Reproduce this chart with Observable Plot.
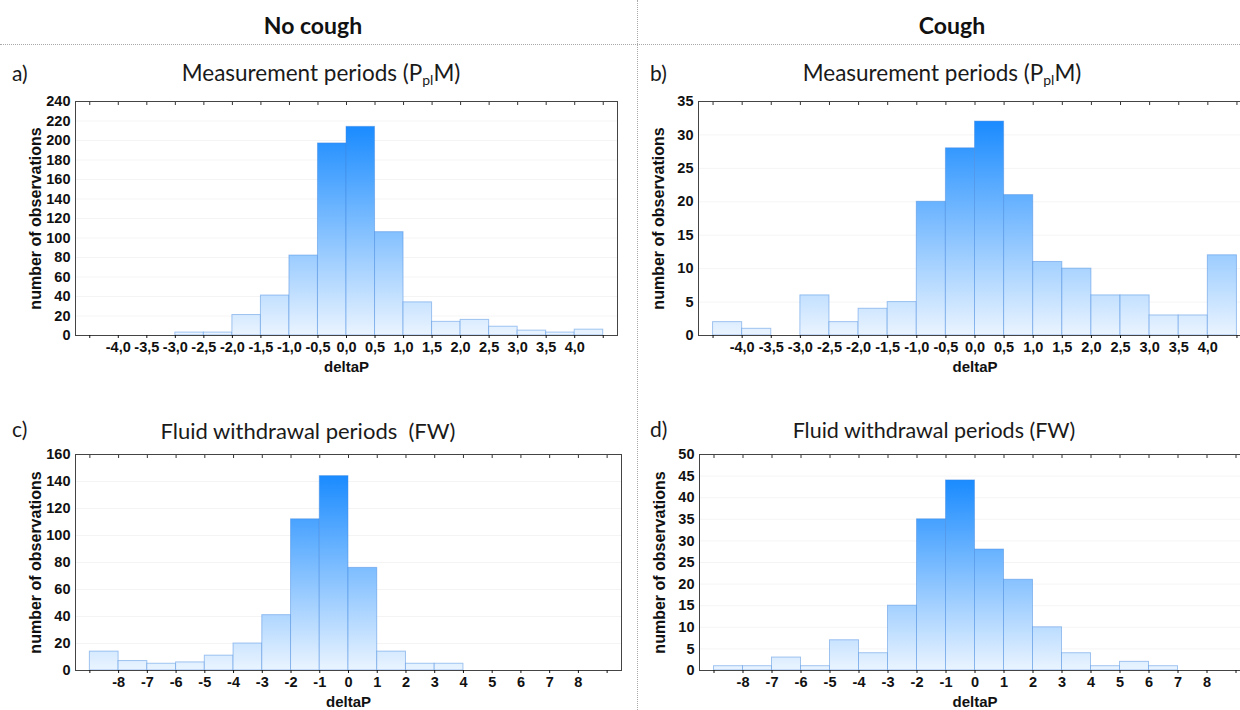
<!DOCTYPE html>
<html><head><meta charset="utf-8">
<script src="https://cdn.jsdelivr.net/npm/d3@7"></script>
<script src="https://cdn.jsdelivr.net/npm/@observablehq/plot@0.6"></script>
<style>
body{margin:0;background:#fff}
#root{position:relative;width:1240px;height:710px;overflow:hidden;background:#fff}
.hdr{position:absolute;font-family:Lato,"Open Sans",sans-serif;font-weight:bold;font-size:23px;color:#111;transform:translate(-50%,-50%);white-space:nowrap}
.ttl{position:absolute;font-family:Lato,"Open Sans",sans-serif;font-size:22.5px;color:#1a1a1a;transform:translate(-50%,-50%);white-space:pre}
.ttl sub{font-size:0.62em;vertical-align:-0.35em;line-height:0}
.lab{position:absolute;font-family:Lato,"Open Sans",sans-serif;font-size:21px;color:#1a1a1a;transform:translate(0,-50%)}
.chart{position:absolute}
.chart svg{max-width:none !important}
.hline{position:absolute;left:0;width:1240px;top:44px;height:0;border-top:1.5px dotted #aaa;z-index:5}
.vline{position:absolute;top:0;height:710px;left:637px;width:0;border-left:1.5px dotted #aaa;z-index:5}
svg g[aria-label="x-axis label"] text{font-size:15px;font-family:"Liberation Sans",Arial,sans-serif}
svg g[aria-label="y-axis label"] text{font-size:16px;font-family:"Liberation Sans",Arial,sans-serif}
</style></head>
<body>
<div id="root">
  <div class="hdr" style="left:313px;top:25px">No cough</div>
  <div class="hdr" style="left:952px;top:25px">Cough</div>
  <div class="hline"></div>
  <div class="vline"></div>
  <div class="lab" style="left:12px;top:72px">a)</div>
  <div class="lab" style="left:650px;top:72px">b)</div>
  <div class="lab" style="left:12px;top:428px">c)</div>
  <div class="lab" style="left:650px;top:428px">d)</div>
  <div class="ttl" style="left:321px;top:72px">Measurement periods (P<sub>pl</sub>M)</div>
  <div class="ttl" style="left:942px;top:72px">Measurement periods (P<sub>pl</sub>M)</div>
  <div class="ttl" style="left:308px;top:430px;font-size:22px">Fluid withdrawal periods  (FW)</div>
  <div class="ttl" style="left:934px;top:430px;font-size:21.5px">Fluid withdrawal periods (FW)</div>
</div>
<script>
// ---- data ----
const edgesPM = [-4.5,-4.0,-3.5,-3.0,-2.5,-2.0,-1.5,-1.0,-0.5,0.0,0.5,1.0,1.5,2.0,2.5,3.0,3.5,4.0,4.5];
const countsA = [0,0,0,3,3,21,41,82,197,214,106,34,14,16,9,5,3,6];
const countsB = [2,1,0,6,2,4,5,20,28,32,21,11,10,6,6,3,3,12];
const edgesFW = [-9,-8,-7,-6,-5,-4,-3,-2,-1,0,1,2,3,4,5,6,7,8,9];
const countsC = [14,7,5,6,11,20,41,112,144,76,14,5,5,0,0,0,0,0];
const countsD = [1,1,3,1,7,4,15,35,44,28,21,10,4,1,2,1,0,0];
const yTicksA = [0,20,40,60,80,100,120,140,160,180,200,220,240];
const yTicksB = [0,5,10,15,20,25,30,35];
const yTicksC = [0,20,40,60,80,100,120,140,160];
const yTicksD = [0,5,10,15,20,25,30,35,40,45,50];
const xLabelsPM = [-4.0,-3.5,-3.0,-2.5,-2.0,-1.5,-1.0,-0.5,0.0,0.5,1.0,1.5,2.0,2.5,3.0,3.5,4.0];
const xLabelsFW = [-8,-7,-6,-5,-4,-3,-2,-1,0,1,2,3,4,5,6,7,8];
const xTitle = "deltaP";
const yTitle = "number of observations";

// ---- layout ----
const panels = [
  {id:"gA", edges:edgesPM, counts:countsA, yTicks:yTicksA, labels:xLabelsPM, dec:1, dom:[-4.75,4.75], left:75, top:101, w:542, h:234},
  {id:"gB", edges:edgesPM, counts:countsB, yTicks:yTicksB, labels:xLabelsPM, dec:1, dom:[-4.75,4.75], left:698, top:101, w:553, h:234},
  {id:"gC", edges:edgesFW, counts:countsC, yTicks:yTicksC, labels:xLabelsFW, dec:0, dom:[-9.5,9.5], left:75, top:454, w:546, h:216},
  {id:"gD", edges:edgesFW, counts:countsD, yTicks:yTicksD, labels:xLabelsFW, dec:0, dom:[-9.5,9.5], left:699, top:454, w:551, h:216}
];
const mL = 75, mT = 8, mR = 20, mB = 42;
const root = document.getElementById("root");

for (const p of panels) {
  const rows = p.counts.map((c,i)=>({x1:p.edges[i], x2:p.edges[i+1], n:c})).filter(d=>d.n>0);
  const ymax = p.yTicks[p.yTicks.length-1];
  const fmt = v => p.labels.some(l=>Math.abs(l-v)<1e-9) ? v.toFixed(p.dec).replace(".", ",") : "";
  const W = mL + p.w + mR, H = mT + p.h + mB;
  const chart = Plot.plot({
    width: W, height: H,
    marginLeft: mL, marginTop: mT, marginRight: mR, marginBottom: mB,
    style: {fontFamily: '"Liberation Sans Narrow", "Arial Narrow", "Liberation Sans", Arial, sans-serif', fontSize: "14.5px", fontWeight: "bold", color: "#111", background: "transparent", overflow: "visible", maxWidth: "none"},
    x: {domain: p.dom},
    y: {domain: [0, ymax]},
    marks: [
      Plot.gridY(p.yTicks, {stroke: "#000", strokeOpacity: 0.045}),
      Plot.rectY(rows, {x1:"x1", x2:"x2", y:"n", fill:`url(#${p.id})`, stroke:"#3f86de", strokeOpacity:0.45, strokeWidth:1}),
      Plot.tickX(p.edges, {x: d=>d, insetBottom: p.h-4, stroke:"#333"}),
      Plot.frame({stroke:"#444"}),
      Plot.axisX(p.edges, {tickSize: 3, tickPadding: 3, tickFormat: fmt, label: xTitle, labelAnchor: "center", labelArrow: "none", labelOffset: 36}),
      Plot.axisY(p.yTicks, {tickSize: 0, tickPadding: 5, label: yTitle, labelAnchor: "center", labelArrow: "none", labelOffset: 46})
    ]
  });
  const sy = chart.scale("y");
  const ns = "http://www.w3.org/2000/svg";
  const defs = document.createElementNS(ns, "defs");
  const lg = document.createElementNS(ns, "linearGradient");
  lg.setAttribute("id", p.id);
  lg.setAttribute("gradientUnits", "userSpaceOnUse");
  lg.setAttribute("x1", 0); lg.setAttribute("x2", 0);
  lg.setAttribute("y1", sy.apply(0));
  lg.setAttribute("y2", sy.apply(d3.max(p.counts)));
  for (const [off, col] of [[0, "#eaf4ff"], [1, "#1a8bff"]]) {
    const s = document.createElementNS(ns, "stop");
    s.setAttribute("offset", off); s.setAttribute("stop-color", col);
    lg.appendChild(s);
  }
  defs.appendChild(lg);
  chart.insertBefore(defs, chart.firstChild);
  const holder = document.createElement("div");
  holder.className = "chart";
  holder.style.left = (p.left - mL) + "px";
  holder.style.top = (p.top - mT) + "px";
  holder.style.width = W + "px";
  holder.style.height = H + "px";
  holder.appendChild(chart);
  root.appendChild(holder);
}
</script>
</body></html>
